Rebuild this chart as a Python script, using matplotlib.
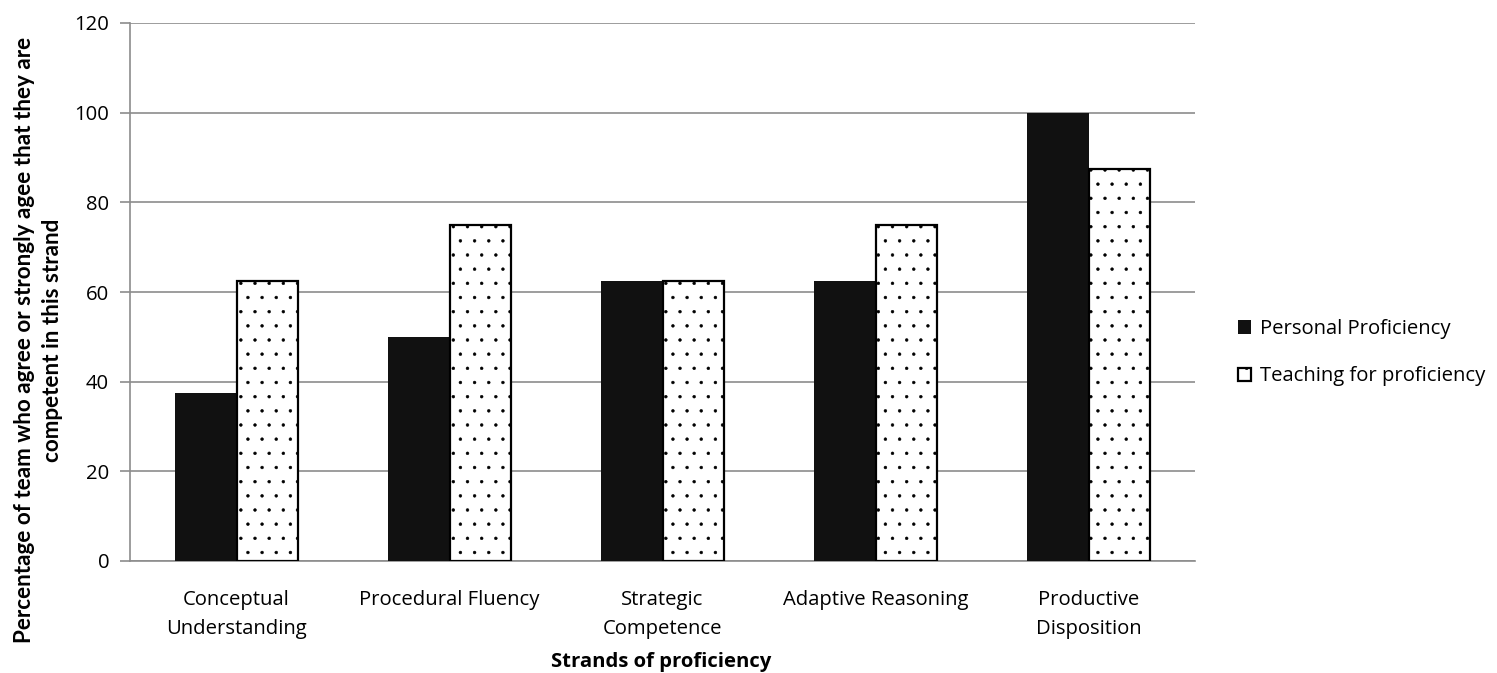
import matplotlib
matplotlib.use("Agg")
import matplotlib.pyplot as plt
import numpy as np

categories = ["Conceptual\nUnderstanding", "Procedural Fluency", "Strategic\nCompetence",
              "Adaptive Reasoning", "Productive\nDisposition"]
personal = [37.5, 50, 62.5, 62.5, 100]
teaching = [62.5, 75, 62.5, 75, 87.5]
series_names = ["Personal Proficiency", "Teaching for proficiency"]
yticks = [0, 20, 40, 60, 80, 100, 120]

DPI = 85
k = 100 / DPI  # so sizes below are as if at 100 dpi

plt.rcParams['font.family'] = ['Open Sans', 'DejaVu Sans']
plt.rcParams['hatch.color'] = '#707070'
plt.rcParams['hatch.linewidth'] = 0.35 * k

W, H = 1497, 673
fig = plt.figure(figsize=(W/DPI, H/DPI), dpi=DPI)
ax = fig.add_axes([130/W, 1-561/H, (1195-130)/W, (561-23)/H])

fs = 14.6 * k
x = np.arange(len(categories))
bw = 0.287
ax.bar(x - bw/2, personal, bw, color='#111111', edgecolor='#111111', linewidth=0, label=series_names[0], zorder=3)
ax.bar(x + bw/2, teaching, bw, color='white', edgecolor='black', linewidth=1.6*k, hatch='.', label=series_names[1], zorder=3)

ax.set_xlim(-0.5, len(categories) - 0.5)
ax.set_ylim(0, 120)
ax.set_yticks(yticks)
ax.set_yticklabels([str(v) for v in yticks], fontsize=fs)
ax.set_xticks(x)
ax.set_xticklabels(categories, fontsize=fs, linespacing=1.62)
ax.tick_params(axis='x', length=0, pad=21*k)
ax.tick_params(axis='y', length=7*k, color='#8c8c8c', width=1.2*k, pad=8*k)
ax.yaxis.grid(True, color='#8c8c8c', linewidth=1.2*k, zorder=0)
ax.set_axisbelow(True)
for s in ['top', 'right']:
    ax.spines[s].set_visible(False)
for s in ['left', 'bottom']:
    ax.spines[s].set_color('#8c8c8c')
    ax.spines[s].set_linewidth(1.2*k)

ax.set_xlabel("Strands of proficiency", fontsize=fs, fontweight='bold')
ax.xaxis.set_label_coords(0.4986, -0.170)
ax.set_ylabel("Percentage of team who agree or strongly agee that they are\ncompetent in this strand",
              fontsize=16.2*k, fontweight='bold', linespacing=1.45,
              family=['Lato', 'DejaVu Sans'])
ax.yaxis.set_label_coords(-0.0625, 0.411)

leg = ax.legend(loc='center left', bbox_to_anchor=(1.023, 0.387), frameon=False, fontsize=fs,
                handlelength=0.65, handleheight=0.65, handletextpad=0.45, labelspacing=1.35)

fig.savefig("out.png", dpi=DPI)
